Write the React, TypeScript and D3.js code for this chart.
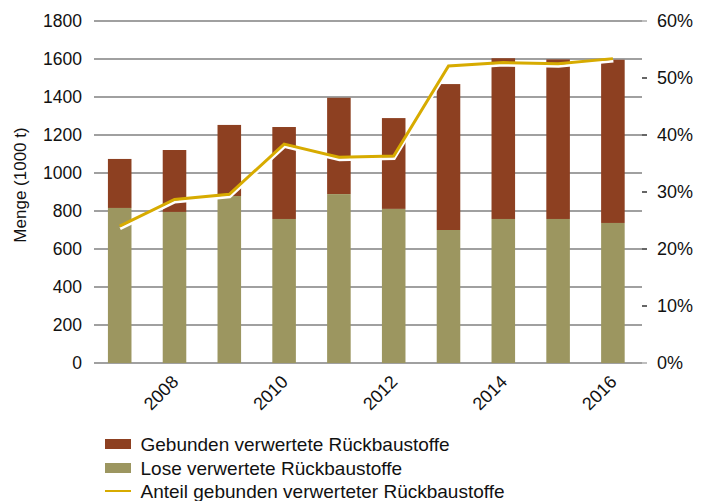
import React from "react";
import * as d3 from "d3";

const years = [2007, 2008, 2009, 2010, 2011, 2012, 2013, 2014, 2015, 2016];
const loseValues = [816, 795, 879, 758, 889, 811, 700, 758, 758, 737];
const totalValues = [1074, 1121, 1253, 1242, 1396, 1289, 1468, 1604, 1598, 1596];
const shareValues = [24.0, 28.7, 29.6, 38.4, 36.1, 36.3, 52.1, 52.7, 52.5, 53.4];
const leftTicks = [0, 200, 400, 600, 800, 1000, 1200, 1400, 1600, 1800];
const rightTicks = [0, 10, 20, 30, 40, 50, 60];
const xLabelYears = [2008, 2010, 2012, 2014, 2016];
const legendLabels = [
  "Gebunden verwertete Rückbaustoffe",
  "Lose verwertete Rückbaustoffe",
  "Anteil gebunden verwerteter Rückbaustoffe",
];

const BROWN = "#8d4021";
const OLIVE = "#9c9660";
const YELLOW = "#d7ab00";
const GRID = "#808080";
const FONT = "'Liberation Sans', Arial, Helvetica, sans-serif";

export default function App() {
  const W = 705;
  const H = 501;
  const gx0 = 94;
  const gx1 = 642;
  const yTop = 21;
  const yBot = 363;

  const x = d3
    .scaleBand<number>()
    .domain(years)
    .range([92.3, 640.3])
    .paddingInner(0.57)
    .paddingOuter(0.285);
  const yL = d3.scaleLinear().domain([0, 1800]).range([yBot, yTop]);
  const yR = d3.scaleLinear().domain([0, 60]).range([yBot, yTop]);

  const cx = (yr: number) => (x(yr) as number) + x.bandwidth() / 2;

  const line = d3
    .line<number>()
    .x((_, i) => cx(years[i]))
    .y((d) => yR(d));
  const pathD = line(shareValues) || "";

  return (
    <svg
      width={W}
      height={H}
      style={{ position: "absolute", left: 0, top: 0, display: "block", background: "#fff" }}
      fontFamily={FONT}
    >
      {leftTicks.map((t) => (
        <line key={"g" + t} x1={gx0} x2={gx1} y1={yL(t)} y2={yL(t)} stroke={GRID} strokeWidth={1.5} />
      ))}
      {leftTicks.map((t) => (
        <text key={"l" + t} x={82} y={yL(t)} dy="0.36em" textAnchor="end" fontSize={17.5} fill="#111">
          {t}
        </text>
      ))}
      {rightTicks.map((t) => (
        <g key={"r" + t}>
          <line
            x1={642}
            x2={647}
            y1={yR(t)}
            y2={yR(t)}
            stroke={t === 0 || t === 60 ? "#aaa" : "#333"}
            strokeWidth={1.5}
          />
          <text x={657} y={yR(t)} dy="0.36em" textAnchor="start" fontSize={18} fill="#111">
            {t + "%"}
          </text>
        </g>
      ))}
      {years.map((yr, i) => (
        <g key={"b" + yr}>
          <rect
            x={x(yr)}
            width={x.bandwidth()}
            y={yL(totalValues[i])}
            height={yL(loseValues[i]) - yL(totalValues[i])}
            fill={BROWN}
          />
          <rect
            x={x(yr)}
            width={x.bandwidth()}
            y={yL(loseValues[i])}
            height={yL(0) - yL(loseValues[i])}
            fill={OLIVE}
          />
        </g>
      ))}
      <path d={pathD} transform="translate(0.5,2.5)" fill="none" stroke="#fff" strokeWidth={3} strokeLinejoin="miter" />
      <path d={pathD} fill="none" stroke={YELLOW} strokeWidth={3} strokeLinejoin="miter" />
      {xLabelYears.map((yr) => (
        <text
          key={"x" + yr}
          transform={`translate(${cx(yr) + 5},${383}) rotate(-45)`}
          textAnchor="end"
          fontSize={18}
          fill="#111"
        >
          {yr}
        </text>
      ))}
      <text
        transform={`translate(26,185) rotate(-90)`}
        textAnchor="middle"
        fontSize={17}
        fill="#111"
      >
        Menge (1000 t)
      </text>
      <rect x={105} y={439} width={26} height={10} fill={BROWN} />
      <rect x={105} y={463} width={26} height={10} fill={OLIVE} />
      <line x1={105} x2={131} y1={491} y2={491} stroke={YELLOW} strokeWidth={2} />
      {legendLabels.map((l, i) => (
        <text key={"lg" + i} x={140.5} y={451 + i * 23.5} fontSize={19} fill="#111">
          {l}
        </text>
      ))}
    </svg>
  );
}
